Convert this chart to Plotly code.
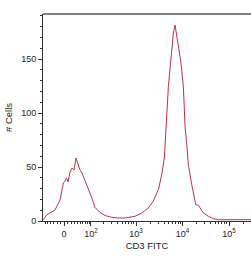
import numpy as np
import plotly.graph_objects as go

# Histogram of CD3 FITC (x in display/decade units of a biexponential scale)
channel = [-0.445, -0.372, -0.194, -0.086, -0.015, 0.022, 0.054, 0.086, 0.129, 0.172,
           0.215, 0.258, 0.301, 0.344, 0.387, 0.430, 0.484, 0.527, 0.591, 0.667,
           0.774, 0.882, 1.022, 1.161, 1.312, 1.527, 1.671, 1.813, 1.920, 2.028,
           2.101, 2.157, 2.187, 2.204, 2.243, 2.280, 2.316, 2.351, 2.387, 2.424,
           2.458, 2.516, 2.566, 2.602, 2.639, 2.673, 2.746, 2.796, 2.832, 2.888,
           2.925, 2.996, 3.103, 3.211, 3.318, 3.570, 4.020]
cells = [1.2, 5.6, 10.2, 19.4, 35.2, 37.0, 39.8, 36.1, 45.4, 49.1,
         47.2, 58.3, 52.8, 47.2, 44.4, 39.8, 34.3, 29.6, 22.2, 12.5,
         7.9, 5.1, 3.4, 2.8, 2.8, 4.4, 7.4, 12.0, 18.5, 29.0,
         42.9, 58.3, 76.9, 93.5, 124.4, 139.8, 158.3, 174.1, 181.5, 170.7,
         161.4, 146.0, 124.4, 87.3, 70.7, 52.1, 33.6, 21.3, 15.1, 14.5,
         12.0, 7.4, 4.4, 2.1, 1.2, 1.2, 1.2]

x_tick_values = [0, 1e2, 1e3, 1e4, 1e5]
x_tick_labels = ["0", "10<sup>2</sup>", "10<sup>3</sup>", "10<sup>4</sup>", "10<sup>5</sup>"]
y_tick_values = [0, 50, 100, 150]

W = 56.6
def biex(v):
    return np.arcsinh(np.asarray(v, dtype=float) / W) / np.log(10)

minor_vals = []
for m in range(1, 10):
    minor_vals.append(-10 * m)
    minor_vals.append(10 * m)
for dec in [100, 1000, 10000, 100000]:
    for m in range(2, 10):
        minor_vals.append(m * dec)
minor_pos = [float(p) for p in biex(minor_vals) if -0.45 < p < 4.02]

fig = go.Figure()
fig.add_trace(go.Scatter(x=channel, y=cells, mode="lines",
                         line=dict(color="#b8344a", width=1), hoverinfo="skip"))

font = dict(family="Liberation Sans, Arial, sans-serif", size=9, color="#222")
fig.update_layout(
    width=251, height=256,
    margin=dict(l=43, r=0, t=14, b=35),
    paper_bgcolor="white", plot_bgcolor="white",
    showlegend=False, font=font,
    xaxis=dict(range=[-0.452, 4.02], tickmode="array",
               tickvals=[float(v) for v in biex(x_tick_values)], ticktext=x_tick_labels,
               ticks="outside", ticklen=4, tickwidth=1, tickcolor="#333",
               showline=True, linecolor="#333", linewidth=1, showgrid=False, zeroline=False,
               minor=dict(tickmode="array", tickvals=minor_pos, ticks="outside",
                          ticklen=2, tickwidth=1, tickcolor="#333", showgrid=False),
               title=dict(text="CD3 FITC", font=dict(size=9.5), standoff=4),
               tickfont=dict(size=9)),
    yaxis=dict(range=[0, 191.7], tickmode="array", tickvals=y_tick_values,
               ticks="outside", ticklen=4, tickwidth=1, tickcolor="#333",
               showline=True, linecolor="#333", linewidth=1, showgrid=False, zeroline=False,
               minor=dict(dtick=10, ticks="outside", ticklen=2, tickwidth=1,
                          tickcolor="#333", showgrid=False),
               title=dict(text="# Cells", font=dict(size=9.5), standoff=6),
               tickfont=dict(size=9)),
    shapes=[dict(type="line", xref="paper", yref="paper", x0=0, x1=1, y0=1, y1=1,
                 line=dict(color="#808080", width=2))],
)

fig.write_html("out.html")
